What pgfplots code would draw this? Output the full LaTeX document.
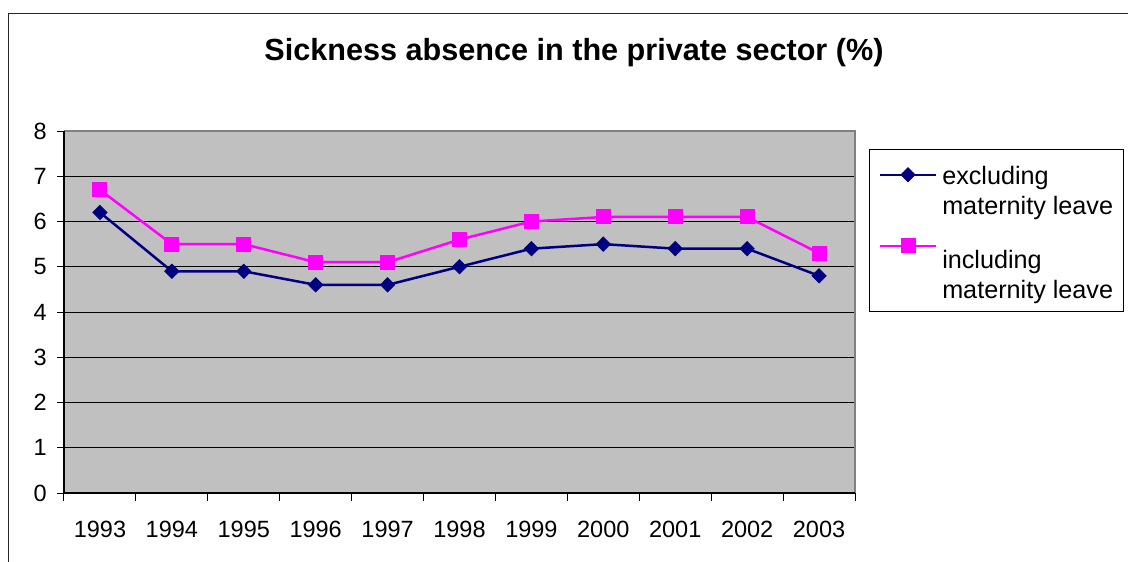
\documentclass[border=0pt]{standalone}
\usepackage{pgfplots}
\pgfplotsset{compat=1.18}
\usepackage{fontspec}
\setmainfont{Liberation Sans}
\definecolor{plotgray}{HTML}{C0C0C0}
\definecolor{framegray}{HTML}{808080}
\definecolor{exclnavy}{HTML}{000080}
\definecolor{inclmag}{HTML}{FF00FF}
% legend text line: given depth below and height above the baseline
\newcommand{\lgline}[3]{\rule[-#1]{0pt}{\dimexpr#1+#2\relax}#3}
\begin{document}
\begin{tikzpicture}[x=1pt,y=1pt]
\useasboundingbox (0,0) rectangle (1128,-562);
% outer chart frame
\draw[line width=1.3pt, black!85] (8.5,-562) -- (8.5,-13.5) -- (1128,-13.5);
\node[anchor=base, inner sep=0pt, font=\fontsize{30.6}{36}\selectfont\bfseries] at (574,-60) {Sickness absence in the private sector (\%)};
\begin{axis}[
  at={(64pt,-493pt)}, anchor=south west,
  scale only axis, width=791pt, height=362pt,
  xmin=-0.5, xmax=10.5, ymin=0, ymax=8,
  xtick={0,...,10},
  xticklabels={1993,1994,1995,1996,1997,1998,1999,2000,2001,2002,2003},
  major x tick style={draw=none},
  minor xtick={-0.5,0.5,...,10.5},
  ytick={0,...,8},
  tick pos=left,
  tick align=outside,
  major tick length=7pt, minor tick length=8pt,
  tick style={black, line width=1pt},
  ymajorgrids, grid style={black, line width=1pt},
  axis background/.style={fill=plotgray},
  axis line style={draw=none},
  ticklabel style={font=\fontsize{23.5}{28}\selectfont},
  /pgf/number format/assume math mode=true,
  xticklabel style={anchor=base, inner sep=0pt, yshift=-37pt},
  yticklabel style={anchor=east, inner sep=0pt, xshift=-10pt},
  legend style={at={(1,1)}, anchor=north west, xshift=14pt, yshift=-18pt,
    draw=black, line width=1pt, fill=white, inner xsep=8pt, inner ysep=10pt,
    row sep=0pt, font=\fontsize{25.2}{30}\selectfont,
    cells={anchor=west, inner xsep=3pt, inner ysep=0pt}},
  legend cell align=left,
  legend image code/.code={\draw[#1, mark repeat=2, mark phase=2] plot coordinates {(2.5pt,-1pt) (30.5pt,-1pt) (58.5pt,-1pt)}; \path (61.5pt,-1pt);},
  clip=false,
]
\draw[framegray, line width=2pt] (rel axis cs:0,1) -- (rel axis cs:1,1) -- (rel axis cs:1,0);
\draw[black, line width=1.2pt] (rel axis cs:0,1) -- (rel axis cs:0,0) -- (rel axis cs:1,0);
\addplot[exclnavy, line width=2.5pt, mark=diamond*, mark size=7pt,
  mark options={solid, line width=1pt, xscale=1.33}]
  coordinates {(0,6.2) (1,4.9) (2,4.9) (3,4.6) (4,4.6) (5,5.0) (6,5.4) (7,5.5) (8,5.4) (9,5.4) (10,4.8)};
\addlegendentry{\lgline{6pt}{23pt}{excluding}}
\addlegendimage{empty legend}
\addlegendentry{\lgline{6pt}{24pt}{maternity leave}}
\addplot[inclmag, line width=2.5pt, mark=square*, mark size=7pt,
  mark options={solid, line width=1pt}]
  coordinates {(0,6.7) (1,5.5) (2,5.5) (3,5.1) (4,5.1) (5,5.6) (6,6.0) (7,6.1) (8,6.1) (9,6.1) (10,5.3)};
\addlegendentry{\lgline{6pt}{49pt}{including}}
\addlegendimage{empty legend}
\addlegendentry{\lgline{9pt}{24pt}{maternity leave}}
\end{axis}
\end{tikzpicture}
\end{document}
